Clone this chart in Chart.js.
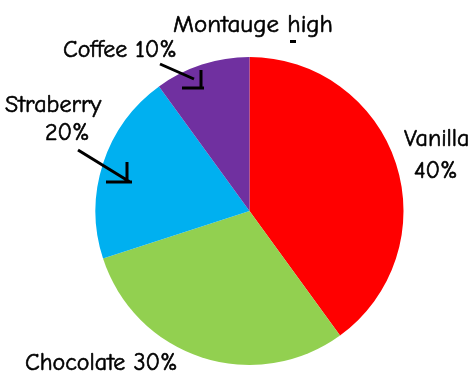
<!DOCTYPE html>
<html>
<head>
<meta charset="utf-8">
<script src="https://cdn.jsdelivr.net/npm/chart.js@4"></script>
<style>
  html, body { margin: 0; padding: 0; background: #fff; }
  #wrap { width: 472px; height: 378px; }
</style>
</head>
<body>
<div id="wrap"><canvas id="chart"></canvas></div>
<script>
const flavours = ["Vanilla", "Chocolate", "Straberry", "Coffee"];
const percents = [40, 30, 20, 10];
const colours = ["#FF0000", "#92D050", "#00B0F0", "#7030A0"];
const titleText = "Montauge high";

const FONT = '"Comic Sans MS", "Comic Neue", "DejaVu Sans", sans-serif';

// hand-placed labels and arrows like the original slide
const notes = {
    id: "notes",
    afterDraw(c) {
        const ctx = c.ctx;
        ctx.save();
        ctx.fillStyle = "#000";
        ctx.strokeStyle = "#000";
        ctx.lineWidth = 0.6;
        ctx.textBaseline = "alphabetic";

        const put = (s, x, y) => { ctx.fillText(s, x, y); ctx.strokeText(s, x, y); };

        ctx.font = "25px " + FONT;
        ctx.textAlign = "center";
        put(titleText, 253, 32);

        ctx.font = "24px " + FONT;
        ctx.textAlign = "left";
        put(flavours[3] + " " + percents[3] + "%", 63, 57);
        put(flavours[2], 5, 112);
        put(percents[2] + "%", 45, 140);
        put(flavours[0], 404, 146);
        put(percents[0] + "%", 414, 178);
        put(flavours[1] + " " + percents[1] + "%", 25, 370);

        ctx.lineWidth = 3;
        ctx.beginPath();
        ctx.moveTo(160, 64); ctx.lineTo(194, 79);
        ctx.moveTo(201, 70); ctx.lineTo(201, 88);
        ctx.moveTo(182, 88); ctx.lineTo(204, 88);
        ctx.moveTo(78, 150); ctx.lineTo(130, 182);
        ctx.moveTo(127, 162); ctx.lineTo(127, 183);
        ctx.moveTo(106, 182); ctx.lineTo(132, 182);
        ctx.stroke();

        ctx.fillRect(290, 40, 6, 3);
        ctx.restore();
    }
};

new Chart(document.getElementById("chart"), {
    type: "pie",
    data: {
        labels: flavours,
        datasets: [{
            data: percents,
            backgroundColor: colours,
            borderWidth: 0
        }]
    },
    options: {
        responsive: true,
        maintainAspectRatio: false,
        animation: false,
        layout: { padding: { top: 57, bottom: 13, left: 27, right: 0 } },
        plugins: {
            legend: { display: false },
            tooltip: { enabled: false }
        }
    },
    plugins: [notes]
});
</script>
</body>
</html>
